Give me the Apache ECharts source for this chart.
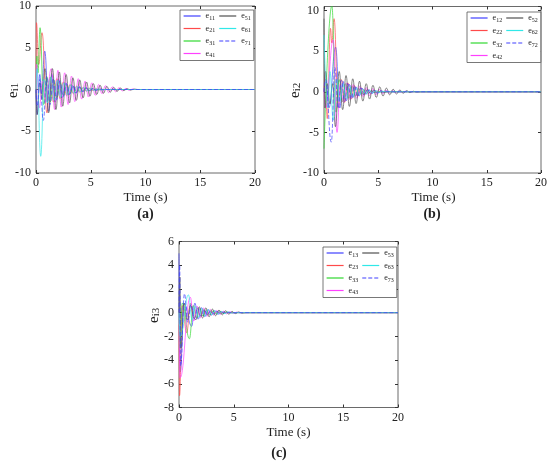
<!DOCTYPE html>
<html>
<head>
<meta charset="utf-8">
<script src="https://cdn.jsdelivr.net/npm/echarts@6/dist/echarts.min.js"></script>
<style>
    html, body { margin: 0; padding: 0; background: #fff; }
    #main { width: 550px; height: 461px; }
</style>
</head>
<body>
<div id="main"></div>
<script>
// values: [time, error] at the turning points of each trace
// panel (a)
const e11 = [[0, 0], [0.1, -3.0], [0.35, 1.8], [0.5, -0.5], [0.8, 4.6], [1.15, -2.6], [1.45, 1.8], [1.76, -1.5], [2.07, 1.2], [2.38, -1.0], [2.69, 0.8], [3.0, -0.65], [3.31, 0.5], [3.62, -0.4], [3.93, 0.32], [4.24, -0.25], [4.55, 0.2], [4.86, -0.15], [5.17, 0.11], [5.48, -0.08], [5.79, 0.05], [6.2, 0], [20, 0]]
const e21 = [[0, 0], [0.04, 8.0], [0.25, 3.0], [0.55, 6.8], [1.0, -2.8], [1.3, 1.5], [1.6, -1.5], [1.9, 1.3], [2.2, -1.1], [2.5, 0.9], [2.8, -0.75], [3.1, 0.6], [3.4, -0.5], [3.7, 0.4], [4.0, -0.32], [4.3, 0.25], [4.6, -0.2], [4.9, 0.15], [5.2, -0.11], [5.5, 0.08], [5.8, -0.05], [6.2, 0], [20, 0]]
const e31 = [[0, 0], [0.08, 4.0], [0.18, 2.0], [0.37, 7.4], [0.7, -1.8], [1.0, 1.5], [1.3, -1.5], [1.6, 1.2], [1.9, -1.0], [2.2, 0.85], [2.5, -0.7], [2.8, 0.55], [3.1, -0.45], [3.4, 0.35], [3.7, -0.28], [4.0, 0.22], [4.3, -0.17], [4.6, 0.13], [4.9, -0.1], [5.2, 0.07], [5.5, -0.05], [5.9, 0], [20, 0]]
const e41 = [[0, 0], [0.05, 3.0], [0.3, -2.2], [0.6, 1.0], [0.9, -1.5], [1.4, 2.5], [1.7, -2.4], [2.0, 2.3], [2.31, -2.1], [2.62, 2.0], [2.93, -1.8], [3.24, 1.6], [3.55, -1.45], [3.86, 1.3], [4.17, -1.15], [4.48, 1.0], [4.79, -0.9], [5.1, 0.8], [5.41, -0.7], [5.72, 0.6], [6.03, -0.5], [6.34, 0.45], [6.65, -0.38], [6.96, 0.32], [7.27, -0.27], [7.58, 0.22], [7.89, -0.17], [8.2, 0.13], [8.51, -0.09], [8.82, 0.06], [9.2, 0], [20, 0]]
const e51 = [[0, 0], [0.1, -3.0], [0.35, 0.8], [0.55, -1.2], [0.82, 2.5], [1.15, -2.8], [1.5, 2.5], [1.82, -2.4], [2.13, 2.1], [2.44, -2.0], [2.75, 1.8], [3.06, -1.6], [3.37, 1.4], [3.68, -1.3], [3.99, 1.15], [4.3, -1.0], [4.61, 0.9], [4.92, -0.8], [5.23, 0.7], [5.54, -0.6], [5.85, 0.5], [6.16, -0.45], [6.47, 0.38], [6.78, -0.32], [7.09, 0.26], [7.4, -0.22], [7.71, 0.17], [8.02, -0.13], [8.33, 0.1], [8.64, -0.07], [8.95, 0.04], [9.3, 0], [20, 0]]
const e61 = [[0, 0], [0.1, 2.5], [0.43, -8.0], [0.75, 1.2], [1.05, -1.6], [1.35, 1.5], [1.65, -1.3], [1.95, 1.1], [2.25, -0.95], [2.55, 0.8], [2.85, -0.65], [3.15, 0.55], [3.45, -0.45], [3.75, 0.37], [4.05, -0.3], [4.35, 0.24], [4.65, -0.19], [4.95, 0.15], [5.25, -0.11], [5.55, 0.08], [5.85, -0.05], [6.2, 0], [20, 0]]
const e71 = [[0, 0], [0.12, -2.0], [0.35, 1.2], [0.67, -3.7], [0.98, 1.6], [1.28, -1.8], [1.58, 1.3], [1.88, -1.2], [2.18, 1.0], [2.48, -0.85], [2.78, 0.7], [3.08, -0.58], [3.38, 0.48], [3.68, -0.4], [3.98, 0.32], [4.28, -0.26], [4.58, 0.2], [4.88, -0.16], [5.18, 0.12], [5.48, -0.09], [5.78, 0.06], [6.1, -0.04], [6.5, 0], [20, 0]]
// panel (b)
const e12 = [[0, 0], [0.15, 2.5], [0.45, -2.0], [1.07, 5.5], [1.45, -2.0], [1.75, 1.3], [2.05, -1.1], [2.35, 0.9], [2.65, -0.75], [2.95, 0.6], [3.25, -0.5], [3.55, 0.4], [3.85, -0.32], [4.15, 0.25], [4.45, -0.2], [4.75, 0.15], [5.05, -0.11], [5.35, 0.08], [5.65, -0.05], [6.0, 0], [20, 0]]
const e22 = [[0, 0], [0.12, 2.5], [0.3, -3.3], [0.6, 7.8], [0.72, 6.0], [0.93, 9.0], [1.3, -2.0], [1.6, 1.5], [1.9, -1.3], [2.2, 1.1], [2.5, -0.9], [2.8, 0.75], [3.1, -0.6], [3.4, 0.5], [3.7, -0.4], [4.0, 0.32], [4.3, -0.25], [4.6, 0.2], [4.9, -0.15], [5.2, 0.11], [5.5, -0.07], [5.9, 0], [20, 0]]
const e32 = [[0, -7.0], [0.72, 10.6], [1.1, -2.5], [1.4, 1.5], [1.7, -1.2], [2.0, 1.0], [2.3, -0.8], [2.6, 0.65], [2.9, -0.5], [3.2, 0.4], [3.5, -0.32], [3.8, 0.25], [4.1, -0.2], [4.4, 0.15], [4.7, -0.11], [5.0, 0.08], [5.3, -0.05], [5.7, 0], [20, 0]]
const e42 = [[0, 0], [0.15, -2.0], [0.85, 6.4], [1.2, -5.0], [1.5, 1.0], [1.8, -1.3], [2.1, 1.1], [2.4, -1.0], [2.7, 0.9], [3.0, -0.8], [3.3, 0.7], [3.6, -0.6], [3.9, 0.5], [4.2, -0.45], [4.5, 0.4], [4.8, -0.35], [5.1, 0.3], [5.4, -0.25], [5.7, 0.2], [6.0, -0.17], [6.3, 0.14], [6.6, -0.11], [6.9, 0.09], [7.2, -0.07], [7.5, 0.05], [7.9, 0], [20, 0]]
const e52 = [[0, 9.0], [0.08, -2.0], [0.3, 1.0], [0.55, -1.5], [0.8, 1.0], [1.05, -4.3], [1.4, 2.5], [1.72, -2.2], [2.03, 2.0], [2.34, -1.8], [2.65, 1.6], [2.96, -1.45], [3.27, 1.3], [3.58, -1.15], [3.89, 1.0], [4.2, -0.9], [4.51, 0.8], [4.82, -0.7], [5.13, 0.6], [5.44, -0.52], [5.75, 0.45], [6.06, -0.38], [6.37, 0.32], [6.68, -0.27], [6.99, 0.22], [7.3, -0.18], [7.61, 0.14], [7.92, -0.1], [8.23, 0.07], [8.54, -0.04], [8.9, 0], [20, 0]]
const e62 = [[0, 7.0], [0.35, -2.0], [0.55, 2.5], [0.85, -3.5], [1.15, 1.5], [1.45, -1.2], [1.75, 1.0], [2.05, -0.85], [2.35, 0.7], [2.65, -0.6], [2.95, 0.5], [3.25, -0.4], [3.55, 0.32], [3.85, -0.26], [4.15, 0.2], [4.45, -0.16], [4.75, 0.12], [5.05, -0.09], [5.35, 0.06], [5.7, 0], [20, 0]]
const e72 = [[0, 0], [0.15, 1.5], [0.67, -6.2], [1.0, 3.0], [1.3, -2.0], [1.6, 1.4], [1.9, -1.2], [2.2, 1.0], [2.5, -0.85], [2.8, 0.7], [3.1, -0.58], [3.4, 0.48], [3.7, -0.4], [4.0, 0.32], [4.3, -0.26], [4.6, 0.2], [4.9, -0.16], [5.2, 0.12], [5.5, -0.09], [5.8, 0.06], [6.2, 0], [20, 0]]
// panel (c)
const e13 = [[0, 5.0], [0.12, -5.0], [0.45, 0.8], [1.16, -1.15], [1.45, 0.8], [1.75, -0.55], [2.05, 0.42], [2.35, -0.33], [2.65, 0.26], [2.95, -0.2], [3.25, 0.16], [3.55, -0.12], [3.85, 0.09], [4.15, -0.06], [4.45, 0.04], [4.8, 0], [20, 0]]
const e23 = [[0, -1.0], [0.05, -7.0], [0.3, 0.6], [0.7, -1.7], [1.05, 0.8], [1.35, -0.5], [1.65, 0.4], [1.95, -0.3], [2.25, 0.25], [2.55, -0.2], [2.85, 0.15], [3.15, -0.12], [3.45, 0.09], [3.75, -0.06], [4.05, 0.04], [4.4, 0], [20, 0]]
const e33 = [[0, 0], [0.08, -3.0], [0.3, 0.8], [0.95, -2.2], [1.3, 0.6], [1.6, -0.45], [1.9, 0.35], [2.2, -0.28], [2.5, 0.22], [2.8, -0.18], [3.1, 0.14], [3.4, -0.11], [3.7, 0.08], [4.0, -0.06], [4.3, 0.04], [4.7, 0], [20, 0]]
const e43 = [[0, 0], [0.1, -5.5], [1.03, 1.3], [1.35, -0.7], [1.65, 0.55], [1.95, -0.45], [2.25, 0.38], [2.55, -0.32], [2.85, 0.27], [3.15, -0.22], [3.45, 0.18], [3.75, -0.15], [4.05, 0.12], [4.35, -0.1], [4.65, 0.08], [4.95, -0.06], [5.25, 0.04], [5.6, 0], [20, 0]]
const e53 = [[0, 0], [0.08, 3.0], [0.18, -3.0], [0.45, 0.8], [0.75, -0.6], [1.05, 0.6], [1.4, -0.5], [1.55, -0.6], [1.85, 0.5], [2.15, -0.45], [2.45, 0.4], [2.75, -0.35], [3.05, 0.3], [3.35, -0.26], [3.65, 0.22], [3.95, -0.19], [4.25, 0.16], [4.55, -0.13], [4.85, 0.1], [5.15, -0.08], [5.45, 0.06], [5.75, -0.04], [6.1, 0], [20, 0]]
const e63 = [[0, 0], [0.12, -2.0], [0.86, 1.5], [1.2, -0.6], [1.5, 0.5], [1.8, -0.4], [2.1, 0.35], [2.4, -0.3], [2.7, 0.25], [3.0, -0.2], [3.3, 0.16], [3.6, -0.13], [3.9, 0.1], [4.2, -0.08], [4.5, 0.06], [4.8, -0.04], [5.2, 0], [20, 0]]
const e73 = [[0, 0], [0.06, 4.0], [0.15, -4.5], [0.5, 1.6], [0.8, -0.8], [1.1, 0.7], [1.4, -0.5], [1.7, 0.4], [2.0, -0.3], [2.3, 0.25], [2.6, -0.2], [2.9, 0.15], [3.2, -0.12], [3.5, 0.09], [3.8, -0.06], [4.1, 0.04], [4.5, 0], [20, 0]]

const colors = ['#4040ff', '#ff4a4a', '#30d830', '#ff40ff', '#505050', '#30e8e8', '#4040ff']
const panels = [
    { names: ['e11', 'e21', 'e31', 'e41', 'e51', 'e61', 'e71'], data: [e11, e21, e31, e41, e51, e61, e71], ymin: -10, ymax: 10, step: 5 },
    { names: ['e12', 'e22', 'e32', 'e42', 'e52', 'e62', 'e72'], data: [e12, e22, e32, e42, e52, e62, e72], ymin: -10, ymax: 10.5, step: 5 },
    { names: ['e13', 'e23', 'e33', 'e43', 'e53', 'e63', 'e73'], data: [e13, e23, e33, e43, e53, e63, e73], ymin: -8, ymax: 6, step: 2 }
]

const serif = 'Liberation Serif'
const grids = [
    { left: 36, top: 6, width: 219, height: 167 },
    { left: 324, top: 6.5, width: 218.5, height: 166.5 },
    { left: 179, top: 241.5, width: 219, height: 166 }
]
const legendPos = [{ left: 180, top: 10 }, { left: 467, top: 12 }, { left: 323, top: 247 }]

const richSub = {
    e: { fontSize: 8, lineHeight: 10, fontFamily: serif, color: '#222' },
    s: { fontSize: 6, lineHeight: 6, fontFamily: serif, color: '#222', verticalAlign: 'bottom' }
}

const xAxis = [], yAxis = [], series = [], legend = []
panels.forEach((p, g) => {
    // bottom / left axes carry labels, top / right only ticks (matlab box)
    xAxis.push({
        type: 'value', gridIndex: g, min: 0, max: 20, interval: 5, position: 'bottom',
        axisLine: { show: false, onZero: false },
        axisTick: { inside: true, length: 3, lineStyle: { color: '#333' } },
        axisLabel: { fontFamily: serif, fontSize: 12, color: '#222', margin: 4 },
        splitLine: { show: false }
    }, {
        type: 'value', gridIndex: g, min: 0, max: 20, interval: 5, position: 'top',
        axisLine: { show: false, onZero: false },
        axisTick: { inside: true, length: 3, lineStyle: { color: '#333' } },
        axisLabel: { show: false },
        splitLine: { show: false }
    })
    yAxis.push({
        type: 'value', gridIndex: g, min: p.ymin, max: p.ymax, interval: p.step, position: 'left',
        axisLine: { show: false, onZero: false },
        axisTick: { inside: true, length: 3, lineStyle: { color: '#333' } },
        axisLabel: { fontFamily: serif, fontSize: 12, color: '#222', margin: 5, showMaxLabel: p.ymax % p.step === 0 },
        splitLine: { show: false }
    }, {
        type: 'value', gridIndex: g, min: p.ymin, max: p.ymax, interval: p.step, position: 'right',
        axisLine: { show: false, onZero: false },
        axisTick: { inside: true, length: 3, lineStyle: { color: '#333' } },
        axisLabel: { show: false },
        splitLine: { show: false }
    })
    p.names.forEach((name, i) => {
        series.push({
            name: name,
            type: 'line',
            xAxisIndex: g * 2,
            yAxisIndex: g * 2,
            data: p.data[i],
            symbol: 'none',
            smooth: 0.45,
            smoothMonotone: 'x',
            animation: false,
            lineStyle: { color: colors[i], width: 0.7, type: i === 6 ? [4, 2] : 'solid' },
            itemStyle: { color: colors[i] }
        })
    })
    legend.push({
        data: p.names,
        orient: 'vertical',
        left: legendPos[g].left,
        top: legendPos[g].top,
        height: 52,
        padding: [2, 3, 2, 3],
        itemGap: 3.5,
        itemWidth: 17,
        itemHeight: 8,
        backgroundColor: '#fff',
        borderColor: '#555',
        borderWidth: 0.8,
        borderRadius: 0,
        selectedMode: false,
        // hide the circle echarts puts on line icons, keep the line
        itemStyle: { opacity: 0 },
        lineStyle: { width: 1.2 },
        formatter: name => `{e|e}{s|${name.slice(1)}}`,
        textStyle: { rich: richSub }
    })
})

function yName(x, y, sub) {
    return {
        type: 'text', x: x, y: y, rotation: Math.PI / 2,
        style: {
            text: `{e|e}{s|${sub}}`,
            rich: {
                e: { fontSize: 15, lineHeight: 16, fontFamily: serif, fill: '#222' },
                s: { fontSize: 11, lineHeight: 10, fontFamily: serif, fill: '#222', verticalAlign: 'bottom' }
            },
            verticalAlign: 'bottom'
        }
    }
}
function label(x, y, text, size, bold) {
    return {
        type: 'text', x: x, y: y,
        style: { text: text, fontFamily: serif, fontSize: size, fontWeight: bold ? 'bold' : 'normal', fill: '#222', textAlign: 'center', textVerticalAlign: 'middle' }
    }
}

echarts.init(document.getElementById('main')).setOption({
    backgroundColor: '#fff',
    animation: false,
    grid: grids.map(r => Object.assign({ show: true, borderColor: '#444', borderWidth: 0.8, backgroundColor: 'transparent' }, r)),
    xAxis: xAxis,
    yAxis: yAxis,
    legend: legend,
    series: series,
    graphic: [
        yName(21, 98, 'i1'),
        yName(303, 98, 'i2'),
        yName(162, 323, 'i3'),
        label(145.5, 198, 'Time (s)', 13),
        label(433.5, 198, 'Time (s)', 13),
        label(288.5, 433, 'Time (s)', 13),
        label(145.5, 214, '(a)', 14, true),
        label(432, 214, '(b)', 14, true),
        label(279, 453, '(c)', 14, true)
    ]
})
</script>
</body>
</html>
